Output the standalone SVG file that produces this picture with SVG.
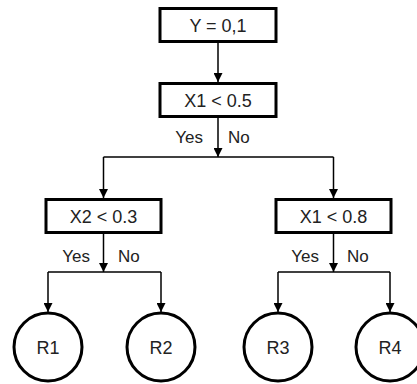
<svg xmlns="http://www.w3.org/2000/svg" width="417" height="384" viewBox="0 0 417 384">
<defs>
<marker id="ah" viewBox="0 0 10 10" refX="10" refY="5" markerWidth="9" markerHeight="9" markerUnits="userSpaceOnUse" orient="auto">
<path d="M0,0 L10,5 L0,10 Z" fill="#000"/>
</marker>
</defs>
<style>
.box{fill:#fff;stroke:#000;stroke-width:3}
.leaf{fill:#fff;stroke:#000;stroke-width:3}
.t{font-family:"Liberation Sans",Arial,sans-serif;font-size:18px;fill:#222;text-anchor:middle}
.l{font-family:"Liberation Sans",Arial,sans-serif;font-size:17px;fill:#222}
.c{fill:none;stroke:#000;stroke-width:1.5}
</style>
<rect width="417" height="384" fill="#fff"/>
<g id="connectors">
<line class="c" x1="218" y1="42" x2="218" y2="82" marker-end="url(#ah)"/>
<line class="c" x1="218" y1="118" x2="218" y2="157" marker-end="url(#ah)"/>
<line class="c" x1="103.5" y1="157" x2="333.5" y2="157"/>
<line class="c" x1="103.5" y1="157" x2="103.5" y2="198" marker-end="url(#ah)"/>
<line class="c" x1="333.5" y1="157" x2="333.5" y2="198" marker-end="url(#ah)"/>
<line class="c" x1="103.5" y1="234" x2="103.5" y2="272" marker-end="url(#ah)"/>
<line class="c" x1="48" y1="272" x2="161" y2="272"/>
<line class="c" x1="48" y1="272" x2="48" y2="312" marker-end="url(#ah)"/>
<line class="c" x1="161" y1="272" x2="161" y2="312" marker-end="url(#ah)"/>
<line class="c" x1="333.5" y1="234" x2="333.5" y2="272" marker-end="url(#ah)"/>
<line class="c" x1="278" y1="272" x2="390" y2="272"/>
<line class="c" x1="278" y1="272" x2="278" y2="312" marker-end="url(#ah)"/>
<line class="c" x1="390" y1="272" x2="390" y2="312" marker-end="url(#ah)"/>
<text class="l" x="203" y="143" text-anchor="end">Yes</text>
<text class="l" x="228" y="143">No</text>
<text class="l" x="90" y="262" text-anchor="end">Yes</text>
<text class="l" x="118" y="262">No</text>
<text class="l" x="319" y="262" text-anchor="end">Yes</text>
<text class="l" x="347" y="262">No</text>
</g>
<g id="root"><rect class="box" x="160" y="8.5" width="116" height="33"/><text class="t" x="218" y="32">Y = 0,1</text></g>
<g id="split1"><rect class="box" x="160" y="83.5" width="116" height="33"/><text class="t" x="218" y="107">X1 &lt; 0.5</text></g>
<g id="split2"><rect class="box" x="46" y="199.5" width="115" height="33"/><text class="t" x="103.5" y="222.5">X2 &lt; 0.3</text></g>
<g id="split3"><rect class="box" x="276" y="199.5" width="115" height="33"/><text class="t" x="333.5" y="222.5">X1 &lt; 0.8</text></g>
<g id="R1"><circle class="leaf" cx="48" cy="347" r="34"/><text class="t" x="48" y="353.5">R1</text></g>
<g id="R2"><circle class="leaf" cx="161" cy="347" r="34"/><text class="t" x="161" y="353.5">R2</text></g>
<g id="R3"><circle class="leaf" cx="278" cy="347" r="34"/><text class="t" x="278" y="353.5">R3</text></g>
<g id="R4"><circle class="leaf" cx="390" cy="347" r="34"/><text class="t" x="390" y="353.5">R4</text></g>
</svg>
